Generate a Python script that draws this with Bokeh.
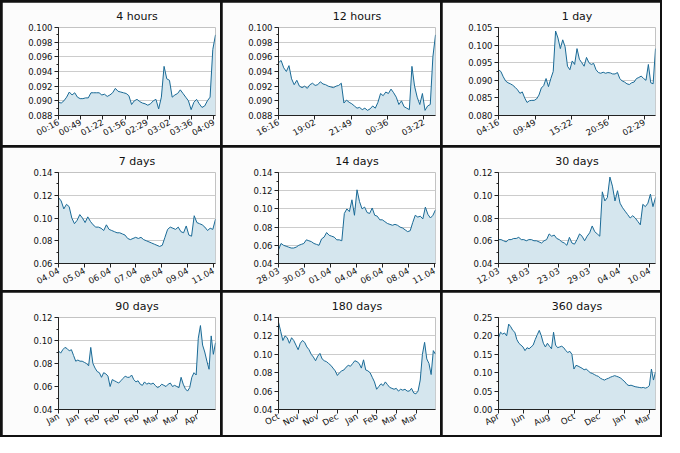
import numpy as np
from bokeh.plotting import figure
from bokeh.layouts import gridplot
from bokeh.models import FixedTicker, Range1d
from bokeh.embed import file_html
from bokeh.resources import INLINE

titles = ["4 hours", "12 hours", "1 day", "7 days", "14 days", "30 days", "90 days", "180 days", "360 days"]

xlabels_4h = ["00:16", "00:49", "01:22", "01:56", "02:29", "03:02", "03:36", "04:09"]
xlabels_12h = ["16:16", "19:02", "21:49", "00:36", "03:22"]
xlabels_1d = ["04:16", "09:49", "15:22", "20:56", "02:29"]
xlabels_7d = ["04.04", "05.04", "06.04", "07.04", "08.04", "09.04", "11.04"]
xlabels_14d = ["28.03", "30.03", "01.04", "04.04", "06.04", "08.04", "11.04"]
xlabels_30d = ["12.03", "18.03", "23.03", "29.03", "04.04", "10.04"]
xlabels_90d = ["Jan", "Jan", "Feb", "Feb", "Feb", "Mar", "Mar", "Apr"]
xlabels_180d = ["Oct", "Nov", "Nov", "Dec", "Jan", "Feb", "Mar", "Mar"]
xlabels_360d = ["Apr", "Jun", "Aug", "Oct", "Dec", "Jan", "Mar"]

v_4h = [0.0898, 0.0897, 0.0900, 0.0905, 0.0912, 0.0908, 0.0911, 0.0905, 0.0903, 0.0903, 0.0904, 0.0904,
        0.0911, 0.0911, 0.0911, 0.0911, 0.0908, 0.0909, 0.0906, 0.0908, 0.0911, 0.0917, 0.0913, 0.0912,
        0.0911, 0.0910, 0.0907, 0.0895, 0.0900, 0.0902, 0.0899, 0.0897, 0.0896, 0.0894, 0.0896, 0.0900,
        0.0902, 0.0889, 0.0905, 0.0947, 0.0930, 0.0928, 0.0905, 0.0908, 0.0910, 0.0915, 0.0910, 0.0905,
        0.0900, 0.0888, 0.0898, 0.0902, 0.0896, 0.0891, 0.0893, 0.0900, 0.0905, 0.0970, 0.0990]
v_12h = [0.0952, 0.0955, 0.0945, 0.0940, 0.0948, 0.0930, 0.0922, 0.0928, 0.0920, 0.0918, 0.0920, 0.0917,
         0.0922, 0.0924, 0.0921, 0.0922, 0.0926, 0.0923, 0.0922, 0.0920, 0.0919, 0.0918, 0.0920, 0.0921,
         0.0924, 0.0897, 0.0901, 0.0898, 0.0896, 0.0893, 0.0890, 0.0891, 0.0888, 0.0890, 0.0887, 0.0889,
         0.0893, 0.0890, 0.0898, 0.0910, 0.0907, 0.0912, 0.0910, 0.0916, 0.0911, 0.0905, 0.0895, 0.0900,
         0.0892, 0.0890, 0.0888, 0.0947, 0.0920, 0.0905, 0.0895, 0.0910, 0.0887, 0.0893, 0.0895, 0.0960, 0.0990]
v_1d = [0.0930, 0.0925, 0.0910, 0.0898, 0.0893, 0.0890, 0.0886, 0.0880, 0.0873, 0.0863, 0.0867, 0.0850,
        0.0837, 0.0842, 0.0843, 0.0843, 0.0847, 0.0858, 0.0878, 0.0885, 0.0905, 0.0882, 0.0905, 0.0925,
        0.1040, 0.1020, 0.0990, 0.1015, 0.0995, 0.0940, 0.0930, 0.0955, 0.0945, 0.0990, 0.0960, 0.0950,
        0.0940, 0.0965, 0.0950, 0.0945, 0.0948, 0.0930, 0.0922, 0.0920, 0.0923, 0.0920, 0.0922, 0.0921,
        0.0918, 0.0918, 0.0922, 0.0905, 0.0898, 0.0895, 0.0890, 0.0888, 0.0893, 0.0895, 0.0905, 0.0908,
        0.0912, 0.0905, 0.0900, 0.0945, 0.0893, 0.0890, 0.0990]
v_7d = [0.118, 0.115, 0.108, 0.112, 0.110, 0.100, 0.095, 0.098, 0.103, 0.100, 0.096, 0.101, 0.097, 0.094,
        0.092, 0.092, 0.091, 0.089, 0.094, 0.090, 0.089, 0.088, 0.087, 0.087, 0.086, 0.085, 0.082, 0.081,
        0.082, 0.083, 0.082, 0.083, 0.081, 0.080, 0.079, 0.078, 0.077, 0.076, 0.075, 0.076, 0.083, 0.090,
        0.092, 0.091, 0.090, 0.092, 0.088, 0.087, 0.093, 0.085, 0.084, 0.102, 0.096, 0.095, 0.094, 0.092,
        0.089, 0.091, 0.090, 0.099]
v_14d = [0.055, 0.062, 0.060, 0.059, 0.058, 0.057, 0.057, 0.058, 0.060, 0.061, 0.062, 0.066, 0.065, 0.064,
         0.062, 0.061, 0.060, 0.067, 0.069, 0.074, 0.071, 0.070, 0.069, 0.066, 0.066, 0.065, 0.095, 0.100,
         0.097, 0.110, 0.093, 0.121, 0.108, 0.100, 0.102, 0.096, 0.095, 0.101, 0.093, 0.092, 0.088, 0.088,
         0.086, 0.084, 0.083, 0.082, 0.083, 0.082, 0.080, 0.079, 0.077, 0.075, 0.076, 0.085, 0.093, 0.091,
         0.092, 0.089, 0.102, 0.094, 0.090, 0.093, 0.099]
v_30d = [0.061, 0.061, 0.060, 0.059, 0.061, 0.061, 0.062, 0.062, 0.063, 0.061, 0.061, 0.060, 0.061, 0.061,
         0.060, 0.060, 0.059, 0.058, 0.060, 0.061, 0.066, 0.064, 0.065, 0.062, 0.061, 0.059, 0.058, 0.056,
         0.063, 0.058, 0.057, 0.061, 0.066, 0.064, 0.060, 0.064, 0.067, 0.073, 0.068, 0.066, 0.064, 0.103,
         0.095, 0.098, 0.116, 0.108, 0.095, 0.104, 0.093, 0.089, 0.086, 0.083, 0.080, 0.082, 0.080, 0.077,
         0.074, 0.092, 0.090, 0.093, 0.101, 0.090, 0.098]
v_90d = [0.091, 0.089, 0.092, 0.094, 0.093, 0.091, 0.092, 0.087, 0.082, 0.083, 0.082, 0.082, 0.081, 0.080,
         0.078, 0.094, 0.080, 0.076, 0.073, 0.072, 0.068, 0.072, 0.071, 0.069, 0.060, 0.066, 0.065, 0.064,
         0.063, 0.065, 0.067, 0.069, 0.068, 0.068, 0.070, 0.066, 0.064, 0.065, 0.062, 0.061, 0.064, 0.062,
         0.063, 0.062, 0.063, 0.061, 0.059, 0.060, 0.062, 0.061, 0.060, 0.062, 0.063, 0.060, 0.061, 0.060,
         0.059, 0.068, 0.062, 0.058, 0.056, 0.059, 0.068, 0.072, 0.070, 0.102, 0.113, 0.096, 0.090, 0.082,
         0.075, 0.104, 0.088, 0.098]
v_180d = [0.135, 0.125, 0.115, 0.120, 0.118, 0.112, 0.118, 0.115, 0.110, 0.105, 0.112, 0.115, 0.113, 0.108,
          0.105, 0.100, 0.097, 0.093, 0.098, 0.101, 0.095, 0.093, 0.092, 0.090, 0.088, 0.085, 0.082, 0.077,
          0.080, 0.082, 0.083, 0.086, 0.088, 0.087, 0.090, 0.093, 0.092, 0.090, 0.085, 0.094, 0.083, 0.082,
          0.080, 0.075, 0.070, 0.062, 0.065, 0.068, 0.066, 0.070, 0.067, 0.064, 0.063, 0.062, 0.063, 0.060,
          0.062, 0.061, 0.062, 0.060, 0.060, 0.063, 0.058, 0.057, 0.060, 0.072, 0.100, 0.113, 0.095, 0.090,
          0.078, 0.104, 0.100]
v_360d = [0.195, 0.210, 0.205, 0.208, 0.200, 0.232, 0.225, 0.215, 0.210, 0.190, 0.180, 0.175, 0.170, 0.160,
          0.168, 0.165, 0.170, 0.175, 0.190, 0.203, 0.215, 0.200, 0.180, 0.170, 0.180, 0.172, 0.165, 0.210,
          0.175, 0.168, 0.170, 0.172, 0.168, 0.160, 0.155, 0.158, 0.150, 0.110, 0.120, 0.118, 0.115, 0.112,
          0.108, 0.110, 0.105, 0.100, 0.098, 0.095, 0.092, 0.090, 0.085, 0.082, 0.080, 0.083, 0.085, 0.088,
          0.090, 0.092, 0.090, 0.088, 0.085, 0.080, 0.075, 0.068, 0.065, 0.066, 0.064, 0.062, 0.061, 0.060,
          0.059, 0.060, 0.058, 0.060, 0.065, 0.110, 0.080, 0.102]

values = [v_4h, v_12h, v_1d, v_7d, v_14d, v_30d, v_90d, v_180d, v_360d]
xlabels = [xlabels_4h, xlabels_12h, xlabels_1d, xlabels_7d, xlabels_14d, xlabels_30d, xlabels_90d, xlabels_180d, xlabels_360d]
x_extent = [7.07, 4.32, 4.3, 6.08, 6.05, 5.2, 7.9, 7.97, 6.22]
y_ranges = [(0.088, 0.100, 0.002, 3), (0.088, 0.100, 0.002, 3), (0.080, 0.105, 0.005, 3),
            (0.06, 0.14, 0.02, 2), (0.04, 0.14, 0.02, 2), (0.04, 0.12, 0.02, 2),
            (0.04, 0.12, 0.02, 2), (0.04, 0.14, 0.02, 2), (0.00, 0.25, 0.05, 2)]

LINE = "#1a6a96"
FILL = "#d5e6ee"
FONT = "DejaVu Sans"

figs = []
for i in range(9):
    vals = values[i]
    xs = np.linspace(0, x_extent[i], len(vals))
    y0, y1, ystep, dec = y_ranges[i]
    p = figure(width=218, height=143, output_backend="svg", toolbar_location=None,
               x_range=Range1d(0, x_extent[i]), y_range=Range1d(y0, y1),
               min_border_left=56, min_border_right=5, min_border_top=2, min_border_bottom=4)
    p.title.text = titles[i]
    p.title.align = "center"
    p.title.text_font = FONT
    p.title.text_font_size = "11px"
    p.title.text_font_style = "normal"
    p.title.text_color = "#111111"
    p.title.offset = 0
    p.background_fill_color = "white"
    p.border_fill_color = "#fcfcfc"
    p.outline_line_color = None
    p.varea(x=xs, y1=[y0] * len(vals), y2=vals, fill_color=FILL)
    p.line(xs, vals, line_color=LINE, line_width=1)
    nt = int(round((y1 - y0) / ystep)) + 1
    yt = [round(y0 + k * ystep, 4) for k in range(nt)]
    p.yaxis.ticker = FixedTicker(ticks=yt, minor_ticks=[round(y0 + k * ystep / 2, 5) for k in range(2 * nt - 1)])
    p.yaxis.major_label_overrides = {t: f"{t:.{dec}f}" for t in yt}
    p.xaxis.ticker = FixedTicker(ticks=list(range(len(xlabels[i]))))
    p.xaxis.major_label_overrides = {k: lab for k, lab in enumerate(xlabels[i])}
    p.xaxis.major_label_orientation = 0.5
    for ax in (p.xaxis, p.yaxis):
        ax.major_label_text_font = FONT
        ax.major_label_text_font_size = "8.5px"
        ax.major_label_text_color = "#111111"
        ax.axis_line_color = "#222222"
        ax.major_tick_line_color = "#222222"
        ax.minor_tick_line_color = "#222222"
        ax.major_tick_out = 4
        ax.major_tick_in = 0
        ax.minor_tick_out = 2
        ax.minor_tick_in = 0
        ax.major_label_standoff = 2
    p.xgrid.grid_line_color = None
    p.ygrid.grid_line_color = "#cccccc"
    figs.append(p)

grid = gridplot([figs[0:3], figs[3:6], figs[6:9]], toolbar_location=None)
grid.spacing = 2
grid.styles = {"background-color": "#111111", "padding": "2px"}

open("out.html", "w").write(file_html(grid, INLINE))
